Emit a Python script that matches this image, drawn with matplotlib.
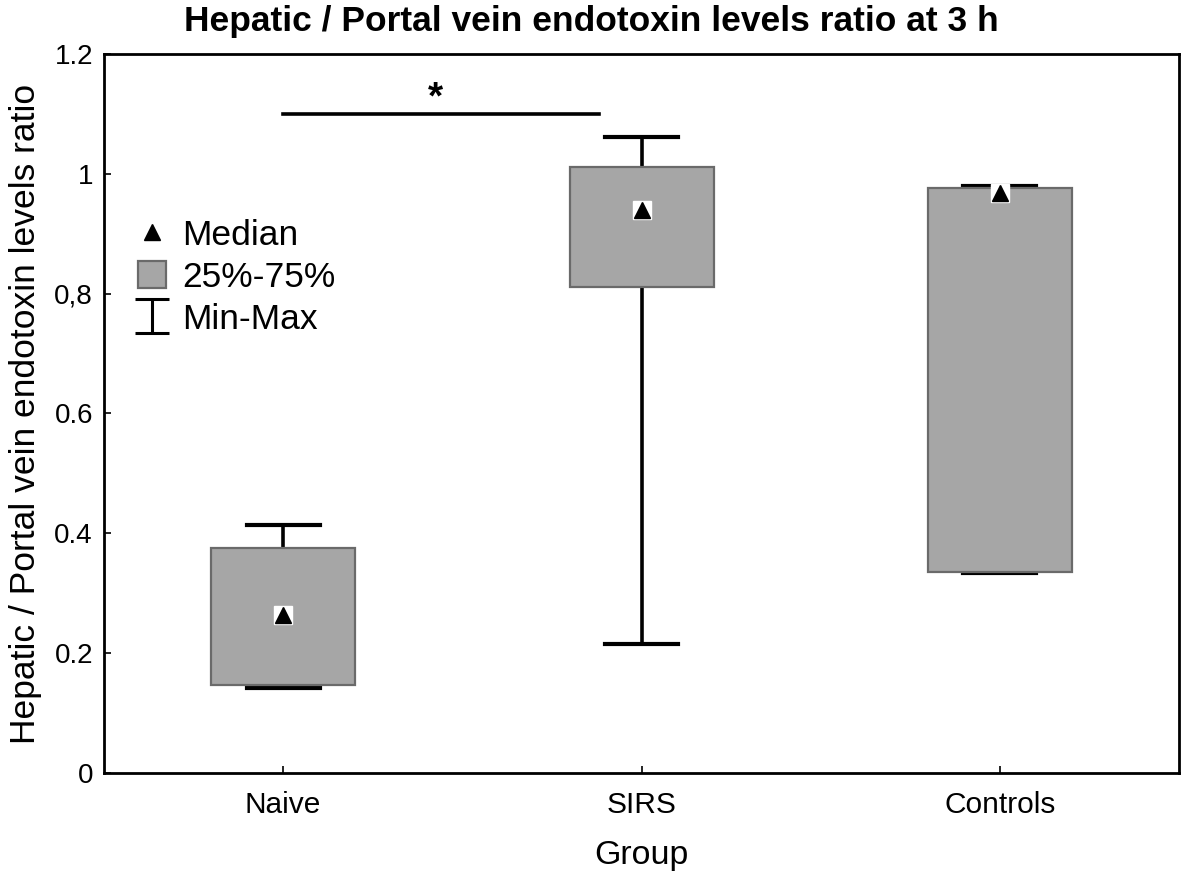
import matplotlib.pyplot as plt
from matplotlib.lines import Line2D
from matplotlib.patches import Patch
from matplotlib.path import Path

plt.rcParams['font.family'] = ['Liberation Sans', 'DejaVu Sans']

# data
groups = ['Naive', 'SIRS', 'Controls']
q1 = [0.146, 0.811, 0.335]
q3 = [0.376, 1.011, 0.977]
medians = [0.264, 0.939, 0.968]
mins = [0.142, 0.215, 0.333]
maxs = [0.414, 1.062, 0.979]
yticks = [0, 0.2, 0.4, 0.6, 0.8, 1.0, 1.2]
ytick_labels = ['0', '0.2', '0.4', '0.6', '0,8', '1', '1.2']

fig = plt.figure(figsize=(11.82, 8.75), dpi=100)
ax = fig.add_axes([0.088, 0.1166, 0.9095, 0.8217])

stats = []
for g, a, b, m, lo, hi in zip(groups, q1, q3, medians, mins, maxs):
    stats.append(dict(label=g, q1=a, q3=b, med=m, whislo=lo, whishi=hi, fliers=[]))

pos = list(range(len(groups)))
ax.bxp(stats, positions=pos, widths=0.402, capwidths=0.204, patch_artist=True,
       showfliers=False,
       boxprops=dict(facecolor='#a6a6a6', edgecolor='#6a6a6a', linewidth=1.6),
       whiskerprops=dict(color='black', linewidth=2.6),
       capprops=dict(color='black', linewidth=3),
       medianprops=dict(linewidth=0))
# box drawn above whisker ends
for p in ax.patches:
    p.set_zorder(3)

ax.plot(pos, medians, 's', color='white', ms=12.5, zorder=4)
ax.plot(pos, medians, '^', color='black', ms=11, zorder=5)

# significance bar
ax.plot([0, 0.88], [1.1, 1.1], color='black', lw=2.6)
ax.text(0.425, 1.125, '*', ha='center', va='center', fontsize=28, fontweight='bold')

ax.set_xlim(-0.5, 2.5)
ax.set_ylim(0, 1.2)
ax.set_xticks(pos)
ax.set_xticklabels(groups, fontsize=21.5)
ax.set_yticks(yticks)
ax.set_yticklabels(ytick_labels, fontsize=20)
ax.tick_params(direction='in', length=5, width=1.2, pad=8)
ax.tick_params(axis='x', pad=13)
for s in ax.spines.values():
    s.set_linewidth(2)

ax.set_xlabel('Group', fontsize=24.5, labelpad=15)
ax.set_ylabel('Hepatic / Portal vein endotoxin levels ratio', fontsize=25.5, labelpad=9)
fig.text(0.5, 1 - 21 / 875, 'Hepatic / Portal vein endotoxin levels ratio at 3 h',
         ha='center', va='center', fontsize=25.5, fontweight='bold')

# legend
ibeam = Path([(-1, -1), (1, -1), (0, -1), (0, 1), (-1, 1), (1, 1)],
             [Path.MOVETO, Path.LINETO, Path.MOVETO, Path.LINETO, Path.MOVETO, Path.LINETO])
handles = [
    Line2D([], [], marker='^', color='black', ls='none', ms=11),
    Patch(facecolor='#a6a6a6', edgecolor='#6a6a6a', linewidth=1.6),
    Line2D([], [], marker=ibeam, color='black', ls='none', ms=24, markeredgewidth=2.2,
           markerfacecolor='none'),
]
ax.legend(handles, ['Median', '25%-75%', 'Min-Max'], loc='upper left',
          bbox_to_anchor=(0.0316, 0.7705), frameon=False, fontsize=25.5,
          borderaxespad=0, borderpad=0,
          handlelength=0.8, handleheight=0.8, handletextpad=0.45, labelspacing=0.25)

fig.savefig('out.png', dpi=100)
